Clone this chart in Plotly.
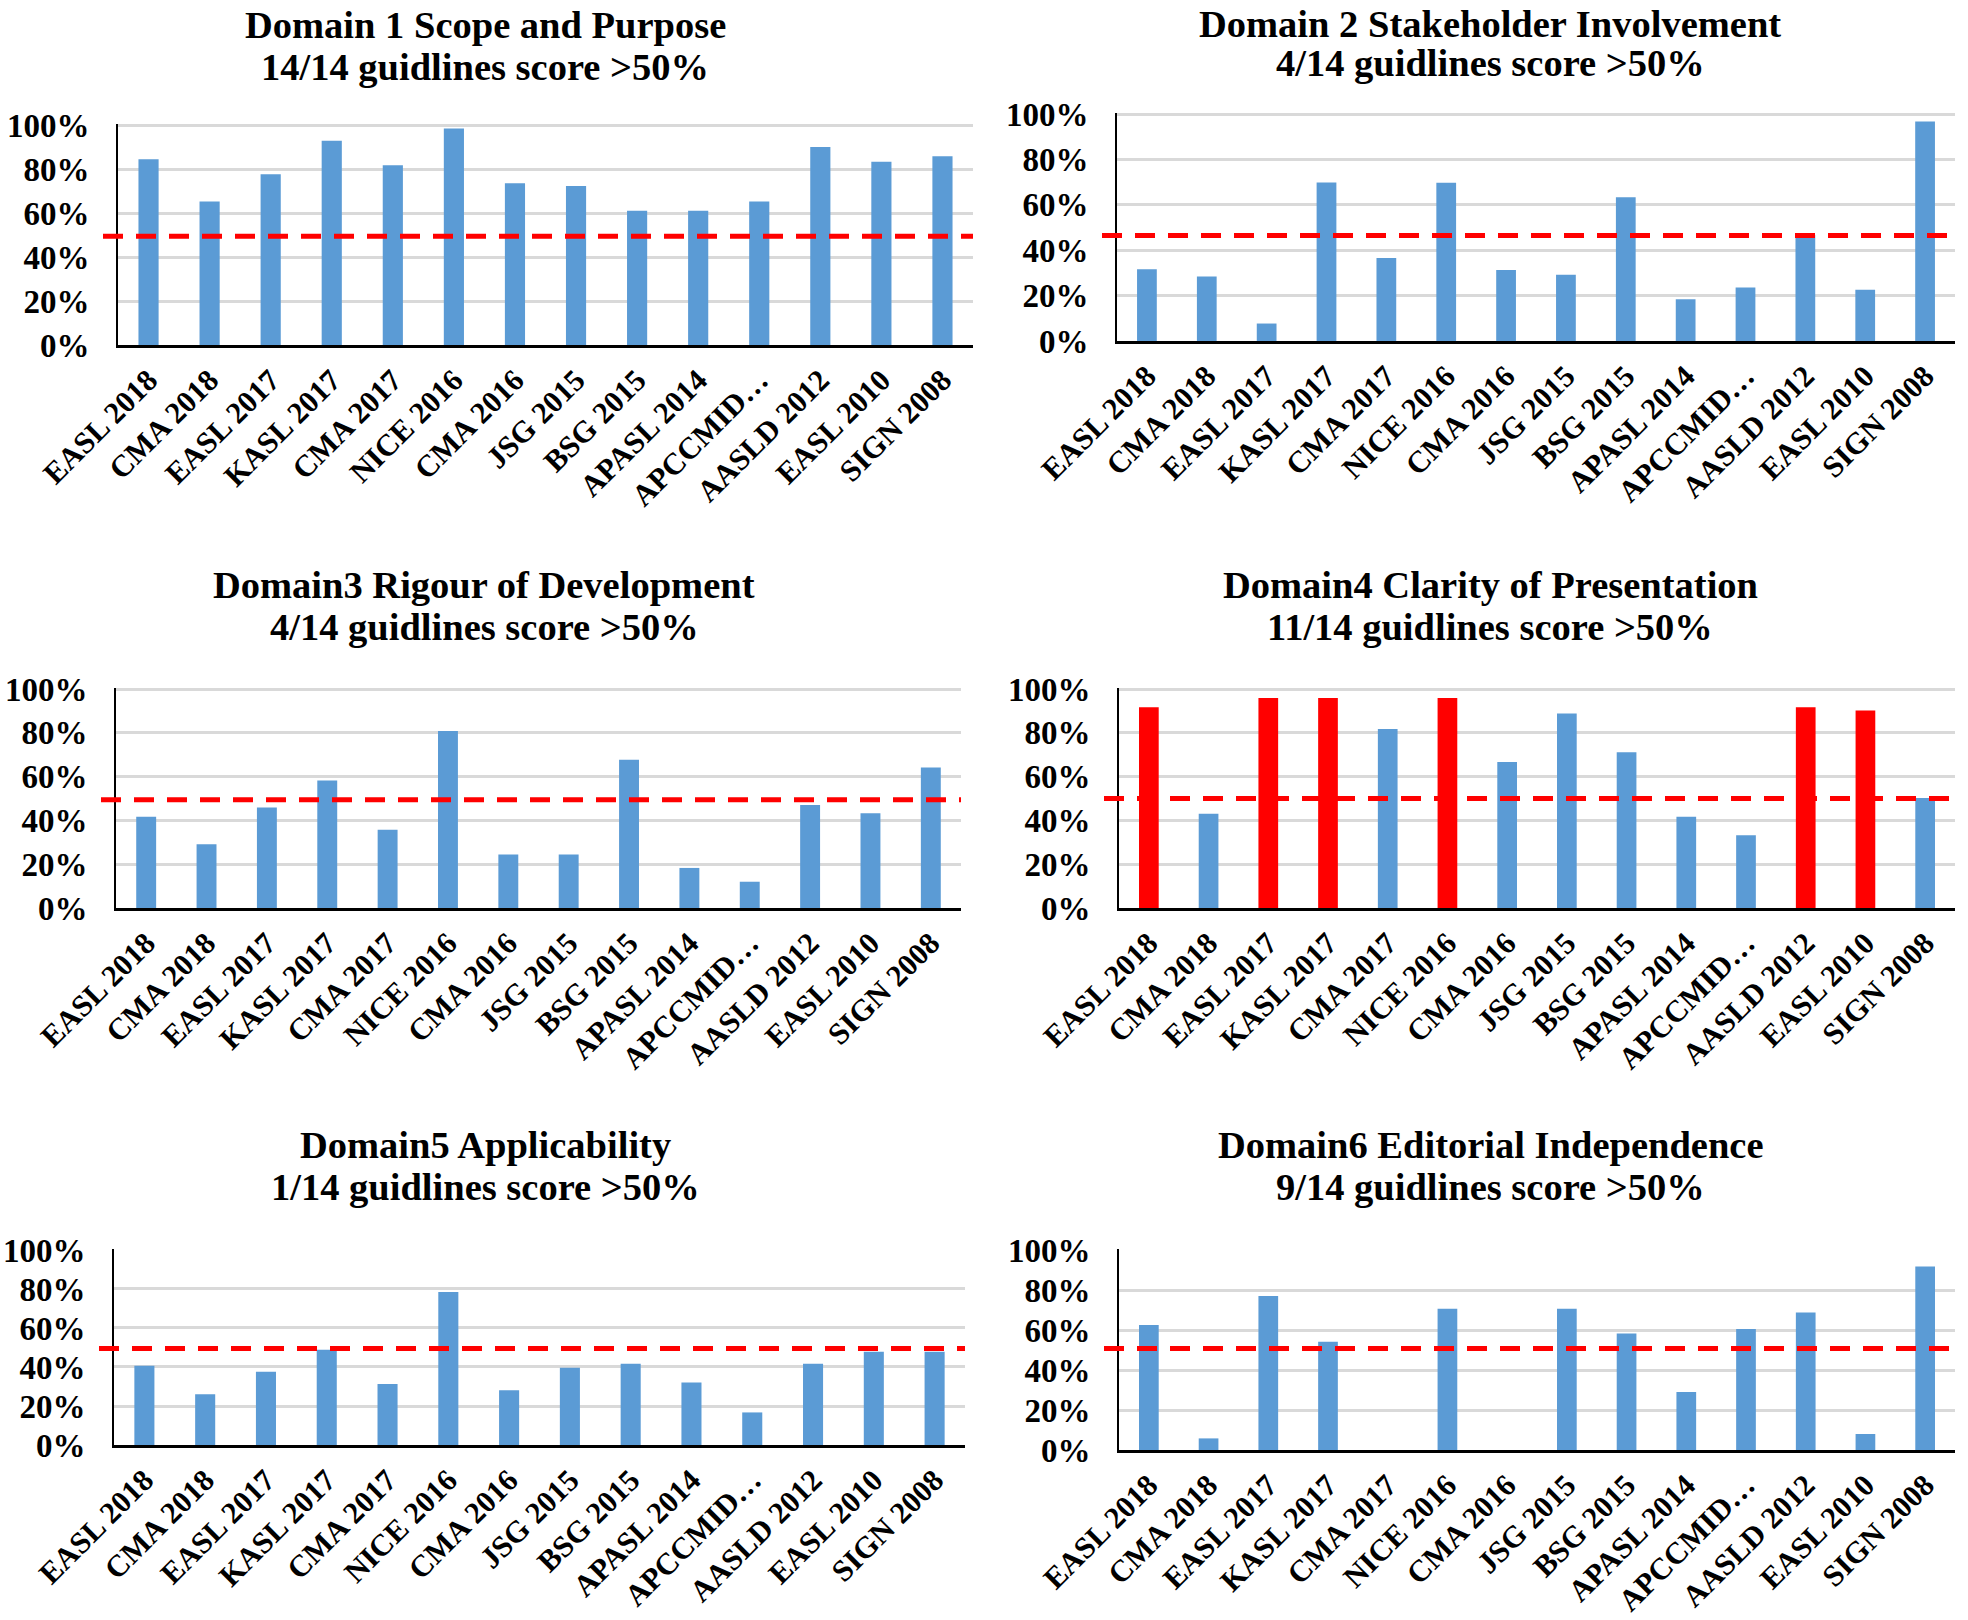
import plotly.graph_objects as go

W, H = 1968, 1620

categories = ["EASL 2018", "CMA 2018", "EASL 2017", "KASL 2017", "CMA 2017", "NICE 2016",
              "CMA 2016", "JSG 2015", "BSG 2015", "APASL 2014", "APCCMID…", "AASLD 2012",
              "EASL 2010", "SIGN 2008"]

d1 = [84.5, 65.2, 77.7, 92.9, 81.7, 98.5, 73.6, 72.3, 61.1, 61.1, 65.2, 90.0, 83.3, 85.8]
d2 = [31.6, 28.4, 7.7, 69.9, 36.6, 69.8, 31.3, 29.2, 63.4, 18.4, 23.6, 46.7, 22.6, 96.8]
d3 = [41.7, 29.1, 45.9, 58.3, 35.8, 80.9, 24.4, 24.4, 67.7, 18.3, 12.0, 47.0, 43.3, 64.2]
d4 = [91.7, 43.0, 95.9, 95.9, 81.8, 95.9, 66.7, 88.8, 71.1, 41.7, 33.2, 91.7, 90.2, 50.2]
d5 = [40.6, 26.0, 37.6, 48.8, 31.3, 78.4, 28.1, 39.6, 41.7, 32.1, 16.7, 41.7, 47.8, 47.8]
d6 = [62.5, 5.8, 77.0, 54.1, 0.0, 70.6, 0.0, 70.6, 58.2, 29.0, 60.5, 68.7, 8.0, 91.7]
d4_highlight = [True, False, True, True, False, True, False, False, False, False, False, True, True, False]

thresholds = [49.5, 46.5, 49.5, 50.0, 49.5, 50.7]

titles_1 = ["Domain 1 Scope and Purpose", "Domain 2 Stakeholder Involvement",
            "Domain3 Rigour of Development", "Domain4 Clarity of Presentation",
            "Domain5 Applicability", "Domain6 Editorial Independence"]
titles_2 = ["14/14 guidlines score >50%", "4/14 guidlines score >50%",
            "4/14 guidlines score >50%", "11/14 guidlines score >50%",
            "1/14 guidlines score >50%", "9/14 guidlines score >50%"]

series = [d1, d2, d3, d4, d5, d6]

# panel boxes in pixels: x0, x1, ytop(100%), ybottom(0%)
boxes = [
    (118, 973, 124, 345),
    (1117, 1955, 113, 341),
    (116, 961, 688, 908),
    (1119, 1955, 688, 908),
    (114, 965, 1249, 1445),
    (1119, 1955, 1249, 1450),
]
title_pos = [
    (485, 25, 67), (1490, 24, 63),
    (484, 585, 627), (1490, 585, 627),
    (485, 1145, 1187), (1490, 1145, 1187),
]

BLUE = "#5B9BD5"
RED = "#FF0000"
FONT = "Liberation Serif"

fig = go.Figure()
layout = dict(
    width=W, height=H, margin=dict(l=0, r=0, t=0, b=0, autoexpand=False),
    paper_bgcolor="white", plot_bgcolor="white", showlegend=False,
    bargap=0.67, font=dict(family=FONT, color="black"),
)
shapes = []
annotations = []

for i, vals in enumerate(series):
    n = i + 1
    xa = "x" if n == 1 else f"x{n}"
    ya = "y" if n == 1 else f"y{n}"
    if i == 3:
        colors = [RED if h else BLUE for h in d4_highlight]
    else:
        colors = [BLUE] * len(vals)
    fig.add_trace(go.Bar(x=categories, y=vals, marker=dict(color=colors, line=dict(width=0)),
                         xaxis=xa, yaxis=ya, hoverinfo="x+y"))
    x0, x1, yt, yb = boxes[i]
    xdom = [x0 / W, x1 / W]
    ydom = [1 - yb / H, 1 - yt / H]
    key = "" if n == 1 else str(n)
    layout["xaxis" + key] = dict(
        domain=xdom, anchor=ya, type="category", automargin=False,
        showline=True, linecolor="black", linewidth=3,
        showgrid=False, ticks="", tickangle=-45,
        tickfont=dict(family=FONT, size=30.5, weight="bold", color="black"),
        ticklabelstandoff=2, fixedrange=True,
    )
    layout["yaxis" + key] = dict(
        domain=ydom, anchor=xa, range=[0, 100.5], dtick=20, ticksuffix="%", automargin=False,
        showline=True, linecolor="black", linewidth=2,
        showgrid=True, gridcolor="#D9D9D9", gridwidth=3, zeroline=False,
        ticks="", tickfont=dict(family=FONT, size=33, weight="bold", color="black"),
        ticklabelstandoff=20, fixedrange=True,
    )
    shapes.append(dict(
        type="line", xref="paper", yref=ya,
        x0=(x0 - 15) / W, x1=x1 / W, y0=thresholds[i], y1=thresholds[i],
        line=dict(color=RED, width=5, dash="20px,13px"), layer="above",
    ))
    tx, ty1, ty2 = title_pos[i]
    annotations.append(dict(x=tx / W, y=1 - ty1 / H, xref="paper", yref="paper",
                            text=titles_1[i], showarrow=False, xanchor="center", yanchor="middle",
                            font=dict(family=FONT, size=38.5, weight="bold", color="black")))
    annotations.append(dict(x=tx / W, y=1 - ty2 / H, xref="paper", yref="paper",
                            text=titles_2[i], showarrow=False, xanchor="center", yanchor="middle",
                            font=dict(family=FONT, size=38.5, weight="bold", color="black")))

layout["shapes"] = shapes
layout["annotations"] = annotations
fig.update_layout(**layout)
fig.write_html("out.html", config={"displayModeBar": False},
               post_script="document.body.style.margin='0px';")
